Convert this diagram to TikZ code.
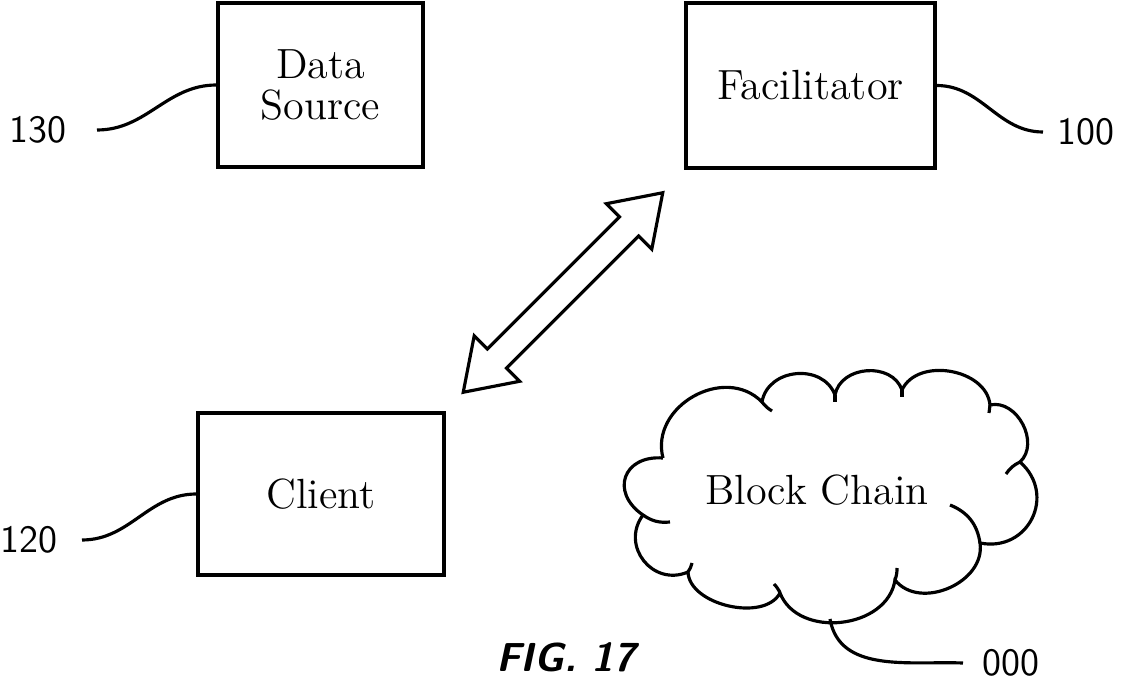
\documentclass[tikz,border=0pt]{standalone}
\usepackage{fontspec}
\usetikzlibrary{positioning}
\usetikzlibrary{shapes.arrows}

\begin{document}
\begin{tikzpicture}[x=0.01cm,y=-0.01cm,
 box/.style={draw,line width=0.9pt,inner sep=0pt,align=center,font=\fontsize{12}{11.5}\selectfont},
 lbl/.style={inner sep=0pt,font=\sffamily\fontsize{11}{12}\selectfont},
 lead/.style={line width=0.9pt},
 puff/.style={bend right=75,looseness=#1}]
 \useasboundingbox (0,0) rectangle (1123,679);
 % boxes
 \node[box,minimum width=2.05cm,minimum height=1.64cm] (src) at (320.5,85) {Data\\Source};
 \node[box,minimum width=2.49cm,minimum height=1.65cm] (fac) at (810.5,85.5) {Facilitator};
 \node[box,minimum width=2.46cm,minimum height=1.62cm] (cli) at (321,494) {Client};
 % link between client and facilitator
 \node[double arrow,draw,line width=0.9pt,rotate=45,minimum height=2.82cm,inner xsep=0pt,inner ysep=0.12cm,
  double arrow head extend=0.185cm,double arrow tip angle=68] (link) at (563,292.5) {};
 % block chain cloud
 \draw[line width=0.9pt] (663,458) to[puff=1.7] (643,515) to[puff=1.35] (688,572) to[puff=0.9] (780,593)
  to[puff=1.1] (895,580) to[puff=1.1] (980,543) to[puff=1.4] (1020,462) to[puff=1.1] (990,405)
  to[puff=1.05] (902,390) to[puff=1.15] (835,395) to[puff=1.2] (762,402) to[puff=1.2] (663,458);
 \draw[line width=0.9pt] (643,515) to[bend right=20] (670,522);
 \draw[line width=0.9pt] (688,572) to[bend right=10] (692,563);
 \draw[line width=0.9pt] (780,593) to[bend right=10] (774,584);
 \draw[line width=0.9pt] (895,580) to[bend right=10] (897,568);
 \draw[line width=0.9pt] (980,543) to[bend right=30] (950,505);
 \draw[line width=0.9pt] (1020,462) to[bend right=15] (1006,474);
 \draw[line width=0.9pt] (990,405) to (989,413);
 \draw[line width=0.9pt] (902,390) to (902,397);
 \draw[line width=0.9pt] (835,395) to (835,402);
 \draw[line width=0.9pt] (762,402) to[bend right=10] (772,411);
 \node[font=\fontsize{12}{12}\selectfont] (chain) at (817,490) {Block Chain};
 \coordinate (cbot) at (830,619);
 % reference numerals
 \coordinate (e130) at (97,130);
 \coordinate (e100) at (1043,132);
 \coordinate (e120) at (82,540);
 \coordinate (e000) at (963,663);
 \node[lbl,left=0.3cm of e130] (l130) {130};
 \node[lbl,right=0.14cm of e100] (l100) {100};
 \node[lbl,left=0.24cm of e120] (l120) {120};
 \node[lbl,right=0.19cm of e000] (l000) {000};
 \draw[lead] (src.west) to[out=180,in=0] (e130);
 \draw[lead] (fac.east) to[out=0,in=180] (e100);
 \draw[lead] (cli.west) to[out=180,in=0] (e120);
 \draw[lead] (cbot) to[out=-80,in=178] (e000);
 \node[font=\sffamily\bfseries\slshape\fontsize{11.5}{12}\selectfont] (fig) at (566,657) {FIG. 17};
\end{tikzpicture}
\end{document}
